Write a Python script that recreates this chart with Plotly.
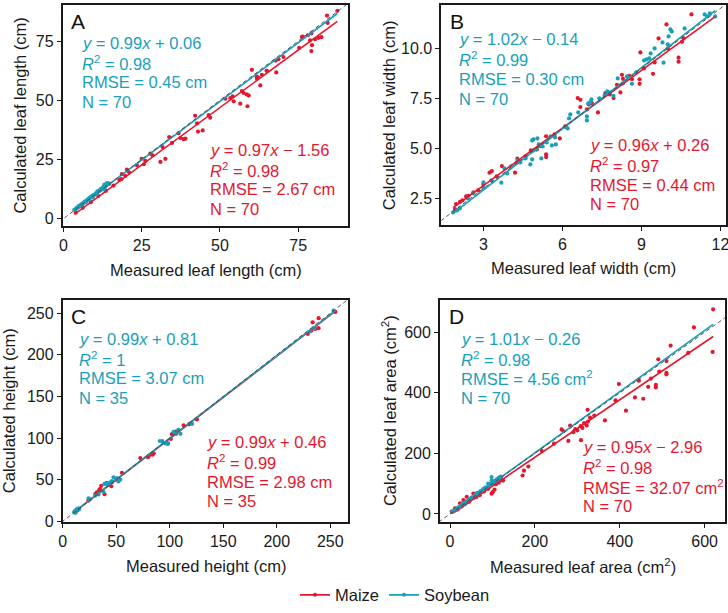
import plotly.graph_objects as go

W, H = 728, 613
MAIZE = "#E3172F"
SOY = "#199FBA"
FONT = "Liberation Sans, Arial, sans-serif"

# ---- values ----
# A: leaf length (cm)
a_maize_x = [87.5, 84.2, 84.4, 76.2, 78.1, 79.2, 78.8, 79.4, 79.2, 80.4, 81.5, 82.4, 75.3, 70.3,
             68.7, 68.0, 64.9, 63.4, 60.2, 61.8, 62.9, 61.8, 58.6, 57.6, 57.0, 56.5, 58.8, 54.4,
             53.3, 51.7, 54.1, 46.9, 46.4, 42.1, 42.7, 43.0, 44.5, 38.4, 37.4, 36.8, 33.8, 34.7,
             31.7, 32.6, 31.0, 26.2, 25.7, 23.5, 20.3, 19.8, 18.5, 17.9, 18.7, 27.8, 14.5, 4.0,
             6.2, 8.8, 11.2, 13.6, 16.0, 21.0, 25.0, 28.5, 39.0, 59.2, 65.0, 67.8, 76.5, 62.2]
a_maize_y = [87.8, 85.8, 82.7, 76.8, 77.5, 78.3, 75.3, 73.3, 70.8, 75.8, 76.4, 76.7, 72.2, 68.3,
             67.4, 61.8, 62.5, 60.8, 62.9, 60.0, 56.3, 59.1, 52.5, 53.1, 53.9, 48.6, 47.5, 49.6,
             51.0, 50.7, 51.7, 42.7, 43.8, 43.5, 40.3, 36.8, 37.3, 33.6, 34.1, 36.1, 34.5, 32.0,
             30.3, 25.3, 24.0, 24.4, 23.0, 22.6, 20.8, 18.1, 16.7, 16.4, 18.8, 27.5, 14.6, 2.6,
             4.6, 7.0, 9.6, 11.8, 14.0, 19.6, 25.3, 26.8, 33.8, 52.0, 62.5, 66.8, 76.9, 59.6]
a_soy_x = [3.5, 3.9, 4.2, 4.5, 4.8, 5.0, 5.3, 5.6, 5.9, 6.1, 6.4, 6.7, 7.0, 7.2, 7.5, 7.8, 8.1,
           8.3, 8.6, 8.9, 9.2, 9.5, 9.8, 10.1, 10.4, 10.7, 11.0, 11.3, 11.6, 11.9, 12.2, 12.5,
           12.8, 13.1, 13.3, 13.6, 13.9, 14.2, 14.5, 12.9, 11.7, 10.9, 9.4, 8.2, 6.8]
a_soy_y = [3.8, 4.0, 4.5, 4.6, 5.2, 5.1, 5.5, 5.9, 6.2, 6.0, 6.7, 6.9, 7.3, 7.0, 7.8, 8.1, 8.4,
           8.0, 9.0, 9.3, 9.4, 9.9, 10.0, 10.3, 10.7, 10.6, 11.4, 11.6, 11.9, 12.5, 12.3, 12.9,
           13.5, 14.4, 13.2, 14.0, 15.0, 14.5, 14.9, 12.4, 12.0, 11.6, 9.0, 8.6, 7.1]

# B: leaf width (cm)
b_maize_x = [10.9, 9.95, 9.65, 10.54, 10.41, 10.41, 8.96, 9.44, 8.93, 8.93, 8.64, 8.26, 8.3, 8.54,
             8.07, 7.94, 7.63, 7.35, 7.12, 6.68, 6.68, 6.58, 6.93, 5.38, 5.38, 5.38, 5.15, 5.03,
             4.29, 4.2, 4.27, 3.32, 3.23, 3.7, 2.62, 2.34, 2.43, 2.11, 1.96, 1.92, 4.6, 4.8, 5.7,
             6.1, 7.0, 7.8, 8.2, 9.1, 9.5, 10.0, 10.6, 2.8, 3.0, 3.5, 2.2, 5.9]
b_maize_y = [11.7, 11.2, 10.5, 10.33, 9.54, 9.34, 9.8, 8.73, 8.46, 8.23, 8.46, 8.68, 8.48, 8.63,
             8.18, 7.52, 7.77, 6.8, 7.27, 7.43, 7.07, 7.52, 6.95, 5.61, 4.70, 4.57, 5.12, 4.95,
             4.49, 3.79, 4.29, 3.87, 3.79, 4.12, 2.8, 2.6, 2.63, 2.33, 2.22, 1.97, 4.6, 4.9, 5.7,
             6.1, 7.2, 7.7, 7.8, 9.0, 9.3, 10.0, 10.5, 2.9, 3.2, 3.6, 2.4, 5.5]
b_soy_x = [11.4, 11.5, 11.6, 11.8, 10.64, 10.1, 10.15, 10.03, 9.8, 10.0, 9.5, 9.35, 9.3, 9.84, 9.1,
           9.2, 8.45, 8.64, 8.3, 8.1, 7.8, 7.7, 7.94, 7.6, 7.1, 7.05, 6.98, 6.93, 6.93, 6.3, 6.25,
           6.2, 6.15, 5.72, 5.55, 5.6, 5.75, 4.9, 5.05, 4.85, 5.1, 5.25, 5.0, 5.2, 4.6, 4.85, 4.78,
           4.9, 4.3, 4.05, 3.9, 3.68, 3.0, 3.0, 2.6, 1.85, 2.0, 2.1, 3.3, 4.4, 5.4, 6.6, 7.4, 8.8,
           3.8, 2.4]
b_soy_y = [11.7, 11.6, 11.75, 11.6, 11.0, 10.95, 10.85, 10.6, 10.3, 10.2, 10.0, 9.75, 9.5, 9.29,
           9.4, 9.45, 8.6, 8.23, 8.25, 8.5, 7.8, 7.85, 7.63, 7.65, 7.45, 7.3, 7.25, 6.6, 6.4, 6.7,
           6.5, 6.0, 6.05, 5.55, 5.6, 5.15, 5.2, 5.45, 5.5, 5.4, 5.2, 5.1, 4.95, 4.5, 4.5, 4.45,
           4.2, 4.9, 4.4, 4.1, 3.75, 3.29, 3.3, 3.05, 2.75, 1.8, 1.9, 2.0, 3.4, 4.3, 5.3, 6.8, 7.5,
           8.8, 4.0, 2.5]

# C: plant height (cm)
c_maize_x = [254.7, 239.1, 233.5, 239.0, 229.0, 232.3, 125.4, 113.0, 118.0, 105.2, 102.0, 98.3,
             85.0, 80.6, 79.6, 72.5, 55.3, 45.4, 39.1, 36.0, 32.0, 34.0, 35.0, 30.5, 41.0, 44.0,
             12.0, 14.0, 24.0, 46.0, 120.0, 84.0, 101.0, 50.0, 236.0]
c_maize_y = [251.5, 244.0, 239.0, 232.0, 225.0, 229.0, 122.4, 115.3, 116.5, 107.8, 104.9, 93.6,
             81.7, 79.0, 77.0, 76.0, 58.4, 42.2, 32.6, 42.8, 35.0, 37.5, 39.0, 33.0, 46.0, 45.5,
             11.0, 13.5, 25.0, 47.0, 118.0, 80.0, 99.0, 50.0, 231.0]
c_soy_x = [253.0, 231.0, 235.0, 120.8, 110.0, 103.6, 96.0, 98.0, 90.7, 93.0, 53.8, 50.7, 47.5,
           44.4, 41.3, 39.0, 33.5, 30.4, 24.2, 13.3, 11.7, 11.1, 14.8, 12.5, 10.8, 12.2, 15.5,
           38.0, 46.0, 52.0, 106.0, 108.0, 25.5, 42.0, 11.9]
c_soy_y = [253.0, 228.0, 232.0, 117.0, 105.2, 107.6, 93.6, 93.0, 96.5, 96.3, 50.1, 52.0, 53.0,
           47.0, 46.0, 45.0, 32.3, 31.0, 27.8, 14.8, 12.8, 10.8, 15.6, 11.5, 11.6, 13.4, 14.9,
           35.5, 48.5, 48.0, 105.0, 110.0, 26.5, 44.0, 10.3]

# D: leaf area (cm2)
d_maize_x = [620, 618.8, 574.8, 561.4, 519.8, 510, 510, 493, 490.8, 485, 485, 467, 473.5, 443.7,
             455.5, 435.8, 414.6, 398, 365, 324.3, 322, 308.6, 278.8, 316, 308, 312, 300, 290.5,
             267, 263, 216, 184.6, 174.3, 171, 121.7, 119.4, 100.5, 98, 55, 39.3, 31.4, 23.6,
             11.8, 4, 108, 115, 125, 70, 80, 62, 45, 18, 28, 90, 105, 330, 295, 245, 283, 340,
             325, 510, 445, 390]
d_maize_y = [676, 535, 616, 532, 556, 466, 461, 470, 511, 426, 418, 420, 447, 442, 380.5, 385,
             341, 429, 308.8, 344, 292.5, 243.6, 241, 300, 290, 284, 276, 270, 274, 279, 208.7,
             156.6, 143, 127, 111.5, 116, 72, 67, 67.5, 56.7, 45.9, 35, 18.7, 7.9, 98, 103, 110,
             62, 74, 55, 40, 15, 25, 83, 80, 318, 280, 232, 292, 325, 305, 505, 440, 375]
d_soy_x = [98, 98, 117.8, 113.9, 110, 90, 5, 8, 12, 15, 18, 20, 22, 25, 27, 30, 32, 35, 38, 40,
           42, 45, 48, 50, 52, 55, 58, 60, 62, 65, 68, 70, 72, 75, 78, 80, 82, 85, 88, 92, 95,
           100, 103, 106, 110, 112, 115, 118, 120, 28, 33, 10, 36, 64]
d_soy_y = [122, 111, 122, 116, 111, 100, 7, 9, 12, 14, 19, 22, 21, 27, 25, 32, 30, 37, 36, 42,
           40, 48, 46, 53, 55, 52, 60, 63, 58, 68, 66, 72, 75, 73, 82, 78, 85, 88, 86, 96, 98,
           104, 100, 110, 114, 108, 119, 117, 123, 30, 35, 11, 33, 70]

# regression coefficients (slope, intercept) as printed on the panels
a_maize_fit, a_soy_fit = (0.97, -1.56), (0.99, 0.06)
b_maize_fit, b_soy_fit = (0.96, 0.26), (1.02, -0.14)
c_maize_fit, c_soy_fit = (0.99, 0.46), (0.99, 0.81)
d_maize_fit, d_soy_fit = (0.95, -2.96), (1.01, -0.26)

a_soy_stats = ["<i>y</i> = 0.99<i>x</i> + 0.06", "<i>R</i><sup>2</sup> = 0.98", "RMSE = 0.45 cm", "N = 70"]
a_maize_stats = ["<i>y</i> = 0.97<i>x</i> − 1.56", "<i>R</i><sup>2</sup> = 0.98", "RMSE = 2.67 cm", "N = 70"]
b_soy_stats = ["<i>y</i> = 1.02<i>x</i> − 0.14", "<i>R</i><sup>2</sup> = 0.99", "RMSE = 0.30 cm", "N = 70"]
b_maize_stats = ["<i>y</i> = 0.96<i>x</i> + 0.26", "<i>R</i><sup>2</sup> = 0.97", "RMSE = 0.44 cm", "N = 70"]
c_soy_stats = ["<i>y</i> = 0.99<i>x</i> + 0.81", "<i>R</i><sup>2</sup> = 1", "RMSE = 3.07 cm", "N = 35"]
c_maize_stats = ["<i>y</i> = 0.99<i>x</i> + 0.46", "<i>R</i><sup>2</sup> = 0.99", "RMSE = 2.98 cm", "N = 35"]
d_soy_stats = ["<i>y</i> = 1.01<i>x</i> − 0.26", "<i>R</i><sup>2</sup> = 0.98", "RMSE = 4.56 cm<sup>2</sup>", "N = 70"]
d_maize_stats = ["<i>y</i> = 0.95<i>x</i> − 2.96", "<i>R</i><sup>2</sup> = 0.98", "RMSE = 32.07 cm<sup>2</sup>", "N = 70"]

# ---- panel layout (pixel boxes of the plotting areas) ----
panels = [
    dict(tag="A", box=(62.7, 5, 348.3, 229.3), xr=[-0.2, 91.0], yr=[-3.2, 90.3],
         xt=[0, 25, 50, 75], yt=[0, 25, 50, 75], fmt="",
         xtitle="Measured leaf length (cm)", ytitle="Calculated leaf length (cm)", ytx=20,
         maize=(a_maize_x, a_maize_y, a_maize_fit, a_maize_stats),
         soy=(a_soy_x, a_soy_y, a_soy_fit, a_soy_stats),
         soy_txt=(80, 43.5), maize_txt=(208, 152)),
    dict(tag="B", box=(441.3, 5.5, 725.7, 228), xr=[1.4, 12.2], yr=[1.17, 12.15],
         xt=[3, 6, 9, 12], yt=[2.5, 5, 7.5, 10], fmt=".1f",
         xtitle="Measured leaf width (cm)", ytitle="Calculated leaf width (cm)", ytx=389,
         maize=(b_maize_x, b_maize_y, b_maize_fit, b_maize_stats),
         soy=(b_soy_x, b_soy_y, b_soy_fit, b_soy_stats),
         soy_txt=(457, 40), maize_txt=(588, 147)),
    dict(tag="C", box=(62.7, 304, 348.3, 529.3), xr=[0, 266.8], yr=[-1.2, 265.8],
         xt=[0, 50, 100, 150, 200, 250], yt=[0, 50, 100, 150, 200, 250], fmt="",
         xtitle="Measured height (cm)", ytitle="Calculated height (cm)", ytx=9,
         maize=(c_maize_x, c_maize_y, c_maize_fit, c_maize_stats),
         soy=(c_soy_x, c_soy_y, c_soy_fit, c_soy_stats),
         soy_txt=(76.5, 343.5), maize_txt=(205, 448)),
    dict(tag="D", box=(440, 304, 725, 529), xr=[-23.6, 648], yr=[-27, 706.6],
         xt=[0, 200, 400, 600], yt=[0, 200, 400, 600], fmt="",
         xtitle="Measured leaf area (cm<sup>2</sup>)", ytitle="Calculated leaf area (cm<sup>2</sup>)", ytx=389,
         maize=(d_maize_x, d_maize_y, d_maize_fit, d_maize_stats),
         soy=(d_soy_x, d_soy_y, d_soy_fit, d_soy_stats),
         soy_txt=(459, 343.5), maize_txt=(581, 453)),
]


def fx(p):
    return p / W


def fy(p):
    return 1 - p / H


fig = go.Figure()
annotations = []
layout_axes = {}

for i, p in enumerate(panels):
    n = "" if i == 0 else str(i + 1)
    xref, yref = "x" + n, "y" + n
    x0, y0, x1, y1 = p["box"]

    mx, my, mfit, mstats = p["maize"]
    sx, sy, sfit, sstats = p["soy"]
    lo, hi = min(mx + sx), max(mx + sx)

    fig.add_trace(go.Scatter(x=mx, y=my, mode="markers", xaxis=xref, yaxis=yref, showlegend=False,
                             marker=dict(color=MAIZE, size=4.2)))
    fig.add_trace(go.Scatter(x=sx, y=sy, mode="markers", xaxis=xref, yaxis=yref, showlegend=False,
                             marker=dict(color=SOY, size=4.2)))
    fig.add_trace(go.Scatter(x=[lo, hi], y=[mfit[0] * lo + mfit[1], mfit[0] * hi + mfit[1]],
                             mode="lines", xaxis=xref, yaxis=yref, showlegend=False,
                             line=dict(color=MAIZE, width=1.6)))
    fig.add_trace(go.Scatter(x=[lo, hi], y=[sfit[0] * lo + sfit[1], sfit[0] * hi + sfit[1]],
                             mode="lines", xaxis=xref, yaxis=yref, showlegend=False,
                             line=dict(color=SOY, width=1.6)))
    d0 = min(p["xr"][0], p["yr"][0])
    d1 = max(p["xr"][1], p["yr"][1])
    fig.add_trace(go.Scatter(x=[d0, d1], y=[d0, d1], mode="lines", xaxis=xref, yaxis=yref,
                             showlegend=False, line=dict(color="#444444", width=0.9, dash="4px,3px")))

    common = dict(showgrid=False, zeroline=False, showline=True, mirror=True, linecolor="#1a1a1a",
                  linewidth=1.8, ticks="outside", ticklen=4, tickwidth=1.2, tickcolor="#1a1a1a",
                  tickfont=dict(size=16, color="#1a1a1a"), automargin=False,
                  ticklabeloverflow="allow")
    layout_axes["xaxis" + n] = dict(common, domain=[fx(x0), fx(x1)], range=p["xr"],
                                    tickvals=p["xt"], anchor=yref)
    layout_axes["yaxis" + n] = dict(common, domain=[fy(y1), fy(y0)], range=p["yr"],
                                    tickvals=p["yt"], tickformat=p["fmt"], anchor=xref)

    # panel letter
    annotations.append(dict(x=fx(x0 + 6.5), y=fy(y0 + 16.5), xref="paper", yref="paper", text=p["tag"],
                            showarrow=False, xanchor="left", yanchor="middle",
                            font=dict(size=21, color="#111111")))
    # axis titles
    annotations.append(dict(x=fx((x0 + x1) / 2), y=fy(y1 + 44), xref="paper", yref="paper",
                            text=p["xtitle"], showarrow=False, xanchor="center", yanchor="middle",
                            font=dict(size=16.5, color="#1a1a1a")))
    annotations.append(dict(x=fx(p["ytx"]), y=fy((y0 + y1) / 2), xref="paper", yref="paper",
                            text=p["ytitle"], textangle=-90, showarrow=False, xanchor="center",
                            yanchor="middle", font=dict(size=16.5, color="#1a1a1a")))
    # statistics blocks
    for (tx, ty), lines, col in ((p["soy_txt"], sstats, SOY), (p["maize_txt"], mstats, MAIZE)):
        for k, line in enumerate(lines):
            annotations.append(dict(x=fx(tx), y=fy(ty + 20 * k), xref="paper", yref="paper",
                                    text=line, showarrow=False, xanchor="left", yanchor="middle",
                                    font=dict(size=16.5, color=col)))

# legend entries
fig.add_trace(go.Scatter(x=[None], y=[None], mode="lines+markers", name="Maize",
                         line=dict(color=MAIZE, width=1.6), marker=dict(color=MAIZE, size=4)))
fig.add_trace(go.Scatter(x=[None], y=[None], mode="lines+markers", name="Soybean",
                         line=dict(color=SOY, width=1.6), marker=dict(color=SOY, size=4)))

fig.update_layout(
    width=W, height=H, margin=dict(l=0, r=0, t=0, b=0),
    paper_bgcolor="white", plot_bgcolor="white",
    font=dict(family=FONT, size=16, color="#1a1a1a"),
    annotations=annotations,
    legend=dict(orientation="h", x=fx(395), y=fy(603), xanchor="center", yanchor="middle",
                font=dict(size=16.5), itemwidth=30, tracegroupgap=0),
    **layout_axes,
)

# drop the page's default body margin so the figure sits at the window's origin
fig.write_html("out.html", config={"displayModeBar": False},
               post_script="document.body.style.margin='0';")
